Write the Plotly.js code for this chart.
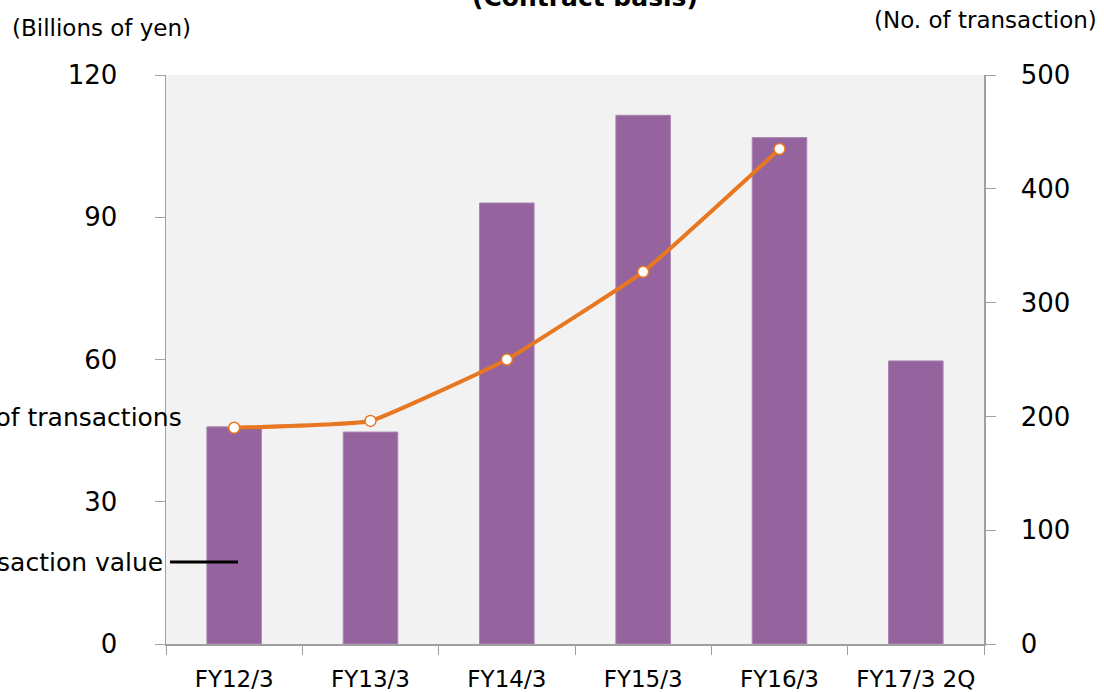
<!DOCTYPE html>
<html><head><meta charset="utf-8">
<script src="https://cdn.plot.ly/plotly-3.0.1.min.js"></script>
<style>html,body{margin:0;padding:0;background:#fff;}#chart{width:1104px;height:692px;}</style>
</head><body><div id="chart"></div>
<script>
const categories = ["FY12/3","FY13/3","FY14/3","FY15/3","FY16/3","FY17/3 2Q"];
const transactionValue = [45.8, 44.7, 93.0, 111.5, 106.8, 59.7];
const lineCategories = ["FY12/3","FY13/3","FY14/3","FY15/3","FY16/3"];
const transactionCount = [190, 196, 250, 327, 435];

const FONT = "DejaVu Sans, Verdana, sans-serif";
const W = 1104, H = 692, L = 166, R = 120, T = 75, B = 48;
const pw = W - L - R, ph = H - T - B;
const px = x => (x - L) / pw;
const py = y => (H - B - y) / ph;

const traces = [
  {type:"bar", x:categories, y:transactionValue, name:"Transaction value",
   marker:{color:"#95649E", line:{color:"#A986B0", width:1}}, width:0.4, yaxis:"y"},
  {type:"scatter", mode:"lines+markers", x:lineCategories, y:transactionCount, name:"No. of transactions",
   yaxis:"y2", line:{color:"#E87722", width:4, shape:"spline", smoothing:0.3},
   marker:{size:11, color:"#FFFFFF", line:{color:"#E87722", width:1.5}}}
];

const layout = {
  width:W, height:H, showlegend:false,
  margin:{l:L, r:R, t:T, b:B, pad:0},
  paper_bgcolor:"#FFFFFF", plot_bgcolor:"#F2F2F2",
  font:{family:FONT, color:"#000"},
  xaxis:{type:"category", showline:true, linecolor:"#A0A0A0", linewidth:1.5,
    ticks:"outside", tickson:"boundaries", ticklen:9, tickcolor:"#A0A0A0",
    tickfont:{size:23, family:FONT}, showgrid:false, zeroline:false, ticklabelstandoff:14},
  yaxis:{range:[0,120], dtick:30, showline:true, linecolor:"#A0A0A0", linewidth:1.5,
    ticks:"outside", ticklen:10, tickcolor:"#A0A0A0", showgrid:false, zeroline:false,
    tickfont:{size:26, family:FONT}, ticklabelstandoff:32},
  yaxis2:{range:[0,500], dtick:100, overlaying:"y", side:"right", showline:true,
    linecolor:"#A0A0A0", linewidth:1.5, ticks:"outside", ticklen:10, tickcolor:"#A0A0A0",
    showgrid:false, zeroline:false, tickfont:{size:26, family:FONT}, ticklabelstandoff:20},
  annotations:[
    {text:"<b>(Contract basis)</b>", xref:"paper", yref:"paper", x:px(585), y:py(-3),
     xanchor:"center", yanchor:"middle", showarrow:false, font:{size:25, family:FONT}},
    {text:"(Billions of yen)", xref:"paper", yref:"paper", x:px(10), y:py(28),
     xanchor:"left", yanchor:"middle", showarrow:false, font:{size:23, family:FONT}},
    {text:"(No. of transaction)", xref:"paper", yref:"paper", x:px(1099), y:py(20),
     xanchor:"right", yanchor:"middle", showarrow:false, font:{size:23, family:FONT}},
    {text:"No. of transactions", xref:"paper", yref:"paper", x:px(184), y:py(417),
     xanchor:"right", yanchor:"middle", showarrow:false, font:{size:25, family:FONT}},
    {text:"Transaction value", xref:"paper", yref:"paper", x:px(165), y:py(562),
     xanchor:"right", yanchor:"middle", showarrow:false, font:{size:25, family:FONT}}
  ],
  shapes:[
    {type:"line", xref:"paper", yref:"paper", x0:px(170), x1:px(238), y0:py(562), y1:py(562),
     line:{color:"#000", width:3}}
  ]
};
Plotly.newPlot("chart", traces, layout, {displayModeBar:false, staticPlot:true});
</script></body></html>
